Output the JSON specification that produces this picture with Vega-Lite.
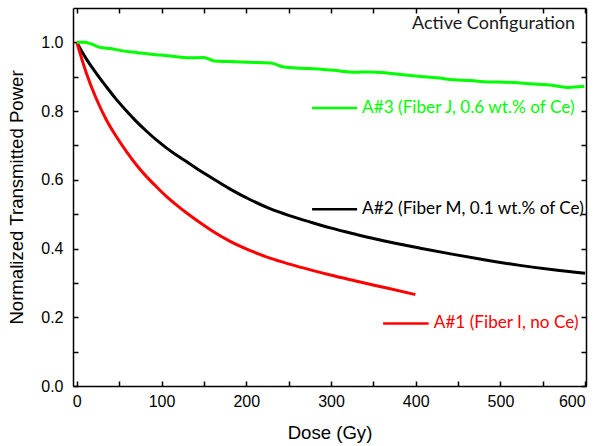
{
  "$schema": "https://vega.github.io/schema/vega-lite/v6.json",
  "width": 513,
  "height": 378,
  "autosize": {"type": "none"},
  "padding": {"left": 73, "top": 8, "right": 13, "bottom": 60},
  "background": "white",
  "config": {
    "view": {"stroke": null},
    "axis": {
      "grid": false,
      "domainColor": "black",
      "domainWidth": 1.5,
      "tickColor": "black",
      "tickWidth": 1.5,
      "tickSize": -5,
      "labelFont": "Liberation Sans",
      "labelFontSize": 16,
      "labelColor": "black",
      "titleFont": "Liberation Sans",
      "titleFontSize": 18.6,
      "titleFontWeight": "normal",
      "titleColor": "black"
    }
  },
  "datasets": {
    "curves": [
      {"series": "A#2", "dose": 0, "value": 1.0},
      {"series": "A#2", "dose": 11.2, "value": 0.952},
      {"series": "A#2", "dose": 23, "value": 0.910},
      {"series": "A#2", "dose": 34.8, "value": 0.871},
      {"series": "A#2", "dose": 46.6, "value": 0.834},
      {"series": "A#2", "dose": 58.4, "value": 0.801},
      {"series": "A#2", "dose": 70.2, "value": 0.770},
      {"series": "A#2", "dose": 82, "value": 0.742},
      {"series": "A#2", "dose": 93.9, "value": 0.716},
      {"series": "A#2", "dose": 105.7, "value": 0.693},
      {"series": "A#2", "dose": 117.5, "value": 0.672},
      {"series": "A#2", "dose": 129.3, "value": 0.653},
      {"series": "A#2", "dose": 141, "value": 0.634},
      {"series": "A#2", "dose": 157.6, "value": 0.608},
      {"series": "A#2", "dose": 181, "value": 0.573},
      {"series": "A#2", "dose": 204.8, "value": 0.542},
      {"series": "A#2", "dose": 228, "value": 0.516},
      {"series": "A#2", "dose": 252, "value": 0.495},
      {"series": "A#2", "dose": 275.7, "value": 0.477},
      {"series": "A#2", "dose": 299.3, "value": 0.460},
      {"series": "A#2", "dose": 330, "value": 0.441},
      {"series": "A#2", "dose": 354, "value": 0.427},
      {"series": "A#2", "dose": 405.5, "value": 0.401},
      {"series": "A#2", "dose": 444.5, "value": 0.383},
      {"series": "A#2", "dose": 484, "value": 0.366},
      {"series": "A#2", "dose": 523, "value": 0.351},
      {"series": "A#2", "dose": 562.6, "value": 0.338},
      {"series": "A#2", "dose": 600, "value": 0.328},
      {"series": "A#1", "dose": 0, "value": 1.0},
      {"series": "A#1", "dose": 11.2, "value": 0.911},
      {"series": "A#1", "dose": 23, "value": 0.836},
      {"series": "A#1", "dose": 34.8, "value": 0.775},
      {"series": "A#1", "dose": 46.6, "value": 0.726},
      {"series": "A#1", "dose": 58.4, "value": 0.683},
      {"series": "A#1", "dose": 70.2, "value": 0.644},
      {"series": "A#1", "dose": 82, "value": 0.610},
      {"series": "A#1", "dose": 93.9, "value": 0.580},
      {"series": "A#1", "dose": 105.7, "value": 0.552},
      {"series": "A#1", "dose": 117.5, "value": 0.527},
      {"series": "A#1", "dose": 129.3, "value": 0.504},
      {"series": "A#1", "dose": 141, "value": 0.483},
      {"series": "A#1", "dose": 157.6, "value": 0.455},
      {"series": "A#1", "dose": 181, "value": 0.421},
      {"series": "A#1", "dose": 204.8, "value": 0.394},
      {"series": "A#1", "dose": 228, "value": 0.372},
      {"series": "A#1", "dose": 252, "value": 0.354},
      {"series": "A#1", "dose": 275.7, "value": 0.338},
      {"series": "A#1", "dose": 299.3, "value": 0.323},
      {"series": "A#1", "dose": 326.8, "value": 0.307},
      {"series": "A#1", "dose": 366, "value": 0.285},
      {"series": "A#1", "dose": 399.6, "value": 0.266},
      {"series": "A#3", "dose": 0, "value": 1.0},
      {"series": "A#3", "dose": 8, "value": 1.0},
      {"series": "A#3", "dose": 16.5, "value": 0.996},
      {"series": "A#3", "dose": 28, "value": 0.985},
      {"series": "A#3", "dose": 40, "value": 0.982},
      {"series": "A#3", "dose": 52, "value": 0.976},
      {"series": "A#3", "dose": 71.5, "value": 0.970},
      {"series": "A#3", "dose": 85, "value": 0.966},
      {"series": "A#3", "dose": 99, "value": 0.963},
      {"series": "A#3", "dose": 115, "value": 0.959},
      {"series": "A#3", "dose": 130.6, "value": 0.955},
      {"series": "A#3", "dose": 150, "value": 0.956},
      {"series": "A#3", "dose": 162, "value": 0.946},
      {"series": "A#3", "dose": 180, "value": 0.944},
      {"series": "A#3", "dose": 201.5, "value": 0.942},
      {"series": "A#3", "dose": 229, "value": 0.940},
      {"series": "A#3", "dose": 244.6, "value": 0.928},
      {"series": "A#3", "dose": 265, "value": 0.925},
      {"series": "A#3", "dose": 288, "value": 0.922},
      {"series": "A#3", "dose": 310, "value": 0.917},
      {"series": "A#3", "dose": 327, "value": 0.913},
      {"series": "A#3", "dose": 345, "value": 0.914},
      {"series": "A#3", "dose": 366.6, "value": 0.911},
      {"series": "A#3", "dose": 385, "value": 0.906},
      {"series": "A#3", "dose": 406, "value": 0.901},
      {"series": "A#3", "dose": 425, "value": 0.897},
      {"series": "A#3", "dose": 445, "value": 0.891},
      {"series": "A#3", "dose": 465, "value": 0.889},
      {"series": "A#3", "dose": 485, "value": 0.885},
      {"series": "A#3", "dose": 505, "value": 0.884},
      {"series": "A#3", "dose": 524, "value": 0.882},
      {"series": "A#3", "dose": 545, "value": 0.878},
      {"series": "A#3", "dose": 563.8, "value": 0.874},
      {"series": "A#3", "dose": 580, "value": 0.869},
      {"series": "A#3", "dose": 599, "value": 0.872}
    ],
    "keys": [
      {"series": "A#3", "dose": 277.7, "value": 0.809},
      {"series": "A#3", "dose": 330.8, "value": 0.809},
      {"series": "A#2", "dose": 277.7, "value": 0.514},
      {"series": "A#2", "dose": 330.8, "value": 0.514},
      {"series": "A#1", "dose": 361.5, "value": 0.182},
      {"series": "A#1", "dose": 415.3, "value": 0.182}
    ],
    "labels": [
      {"series": "A#3", "dose": 336.7, "value": 0.809, "text": "A#3 (Fiber J, 0.6 wt.% of Ce)"},
      {"series": "A#2", "dose": 336.7, "value": 0.514, "text": "A#2 (Fiber M, 0.1 wt.% of Ce)"},
      {"series": "A#1", "dose": 421.3, "value": 0.182, "text": "A#1 (Fiber I, no Ce)"}
    ],
    "note": [
      {"dose": 395.7, "value": 1.052, "text": "Active Configuration"}
    ]
  },
  "layer": [
    {
      "data": {"name": "curves"},
      "mark": {"type": "line", "strokeWidth": 3, "interpolate": "monotone"},
      "encoding": {
        "x": {
          "field": "dose", "type": "quantitative",
          "scale": {"domain": [-4.5, 601], "nice": false, "zero": false},
          "axis": {
            "orient": "bottom",
            "title": "Dose (Gy)",
            "values": [0, 50, 100, 150, 200, 250, 300, 350, 400, 450, 500, 550, 600],
            "labelExpr": "datum.value % 100 === 0 ? datum.label : ''",
            "labelPadding": 12,
            "titlePadding": 14
          }
        },
        "y": {
          "field": "value", "type": "quantitative",
          "scale": {"domain": [0, 1.1], "nice": false},
          "axis": {
            "orient": "left",
            "title": "Normalized Transmitted Power",
            "values": [0, 0.1, 0.2, 0.3, 0.4, 0.5, 0.6, 0.7, 0.8, 0.9, 1.0],
            "format": ".1f",
            "labelExpr": "round(datum.value * 10) % 2 === 0 ? datum.label : ''",
            "labelPadding": 15,
            "titlePadding": 14
          }
        },
        "color": {
          "field": "series", "type": "nominal",
          "scale": {"domain": ["A#1", "A#2", "A#3"], "range": ["#ff0000", "#000000", "#00ff00"]},
          "legend": null
        },
        "order": {"field": "dose", "type": "quantitative"}
      }
    },
    {
      "data": {"name": "keys"},
      "mark": {"type": "line", "strokeWidth": 2.5},
      "encoding": {
        "x": {
          "field": "dose", "type": "quantitative",
          "axis": {
            "orient": "top", "title": null, "labels": false,
            "values": [0, 50, 100, 150, 200, 250, 300, 350, 400, 450, 500, 550, 600]
          }
        },
        "y": {
          "field": "value", "type": "quantitative",
          "axis": {
            "orient": "right", "title": null, "labels": false,
            "values": [0, 0.1, 0.2, 0.3, 0.4, 0.5, 0.6, 0.7, 0.8, 0.9, 1.0]
          }
        },
        "color": {"field": "series", "type": "nominal", "legend": null}
      }
    },
    {
      "data": {"name": "labels"},
      "mark": {"type": "text", "align": "left", "baseline": "middle", "font": "Lato", "fontSize": 17.2},
      "encoding": {
        "x": {"field": "dose", "type": "quantitative", "axis": null},
        "y": {"field": "value", "type": "quantitative", "axis": null},
        "text": {"field": "text"},
        "color": {"field": "series", "type": "nominal", "legend": null}
      }
    },
    {
      "data": {"name": "note"},
      "mark": {"type": "text", "align": "left", "baseline": "middle", "font": "Lato", "fontSize": 18, "color": "#1a1a1a"},
      "encoding": {
        "x": {"field": "dose", "type": "quantitative", "axis": null},
        "y": {"field": "value", "type": "quantitative", "axis": null},
        "text": {"field": "text"}
      }
    }
  ]
}
